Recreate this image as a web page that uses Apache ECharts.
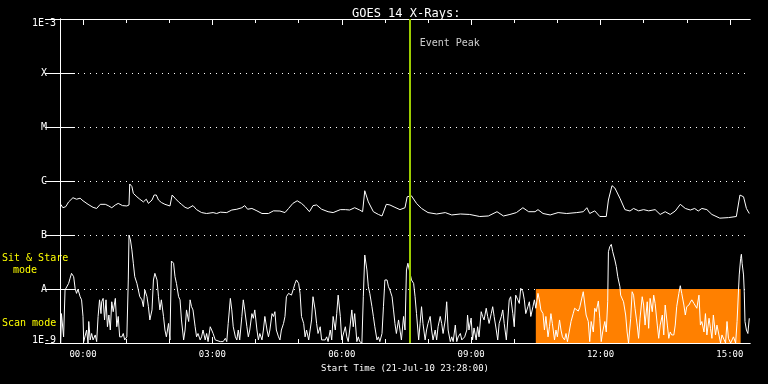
<!DOCTYPE html>
<html>
<head>
<meta charset="utf-8">
<script src="https://cdn.jsdelivr.net/npm/echarts@6/dist/echarts.min.js"></script>
<style>html,body{margin:0;padding:0;background:#000}#c{width:768px;height:384px}</style>
</head>
<body>
<div id="c"></div>
<script>
// x values: minutes since start time 21-Jul-10 23:28:00
const titleText = 'GOES 14 X-Rays:';
const xTitle = 'Start Time (21-Jul-10 23:28:00)';
const xMinMinute = 0, xMaxMinute = 960;
const hourTickMinutes = [32,92,152,212,272,332,392,452,512,572,632,692,752,812,872,932];
const labelTickMinutes = [32,212,392,572,752,932];
const tickLabels = ['00:00','03:00','06:00','09:00','12:00','15:00'];
const yLevels = [1e-9,1e-8,1e-7,1e-6,1e-5,1e-4,1e-3];
const yLabels = ['1E-9','A','B','C','M','X','1E-3'];
const eventPeakMinute = 486.5;
const eventLabel = 'Event Peak';
const orangeSpan = [662, 947];
const orangeFlux = [1e-9, 1e-8];
const modeLabels = ['Sit & Stare', 'mode', 'Scan mode'];

// long channel (upper curve)
const longTimes = [1,4,8,12,18,23,28,32,39,46,51,56,63,67,72,77,81,87,93,96,97,100,102,107,111,116,120,123,128,131,134,137,141,146,153,156,160,165,169,174,178,185,190,197,204,213,218,223,232,239,246,253,257,261,267,274,281,290,297,306,313,318,324,330,336,341,347,352,357,364,373,380,390,397,403,410,417,421,424,429,436,443,448,454,459,466,473,480,483,489,496,503,512,524,536,545,557,570,584,596,608,617,626,635,644,652,661,665,672,682,693,705,719,728,733,737,744,751,760,763,768,772,779,786,793,798,805,812,819,828,835,842,849,856,863,870,877,883,888,893,900,907,918,930,941,946,951,955,959];
const longFlux = [3.7e-7,3.2e-7,3.35e-7,4.1e-7,4.9e-7,4.6e-7,4.8e-7,4.3e-7,3.7e-7,3.25e-7,3.1e-7,3.7e-7,3.7e-7,3.5e-7,3.2e-7,3.6e-7,3.85e-7,3.5e-7,3.45e-7,3.6e-7,8.8e-7,7.9e-7,5.9e-7,5.1e-7,4.6e-7,4.1e-7,4.6e-7,3.85e-7,4.45e-7,5.5e-7,5.5e-7,4.45e-7,4.0e-7,3.7e-7,3.45e-7,5.5e-7,4.8e-7,4.1e-7,3.7e-7,3.25e-7,3.1e-7,3.5e-7,2.95e-7,2.6e-7,2.5e-7,2.6e-7,2.5e-7,2.65e-7,2.6e-7,2.9e-7,3.0e-7,3.2e-7,3.5e-7,3.0e-7,3.1e-7,2.8e-7,2.5e-7,2.5e-7,2.8e-7,2.78e-7,2.6e-7,3.1e-7,3.85e-7,4.3e-7,3.85e-7,3.35e-7,2.7e-7,3.5e-7,3.6e-7,3.0e-7,2.7e-7,2.6e-7,2.95e-7,2.95e-7,2.9e-7,3.2e-7,2.9e-7,2.7e-7,6.6e-7,4.1e-7,2.7e-7,2.4e-7,2.25e-7,3.7e-7,3.6e-7,3.25e-7,2.95e-7,3.2e-7,5.1e-7,5.3e-7,3.85e-7,3.1e-7,2.6e-7,2.45e-7,2.6e-7,2.35e-7,2.45e-7,2.4e-7,2.2e-7,2.25e-7,2.7e-7,2.25e-7,2.4e-7,2.6e-7,3.2e-7,2.7e-7,2.7e-7,2.95e-7,2.5e-7,2.35e-7,2.6e-7,2.5e-7,2.6e-7,2.7e-7,3.2e-7,2.5e-7,2.8e-7,2.2e-7,2.2e-7,4.45e-7,8.2e-7,7.4e-7,4.8e-7,2.95e-7,2.78e-7,3.1e-7,2.8e-7,2.95e-7,2.8e-7,2.95e-7,2.4e-7,2.7e-7,2.4e-7,2.78e-7,3.7e-7,3.1e-7,2.9e-7,3.1e-7,2.78e-7,3.1e-7,2.95e-7,2.4e-7,2.05e-7,2.1e-7,2.2e-7,5.5e-7,5.1e-7,3.1e-7,2.5e-7];

// short channel (lower curve)
const shortTimes = [1,2,5,7,9,12,14,16,19,21,23,25,28,30,32,33,35,37,39,40,42,44,46,49,51,53,55,57,58,60,62,64,66,68,70,72,74,77,79,81,83,86,88,90,93,95,96,98,100,102,104,107,109,111,114,116,118,121,123,125,128,130,132,135,137,139,141,144,146,148,151,153,155,158,160,162,165,167,169,172,174,176,179,181,183,185,188,190,192,195,197,199,202,204,206,209,211,213,216,218,223,225,227,230,232,234,237,239,241,244,246,248,250,253,255,257,260,262,264,267,269,271,274,276,278,281,283,285,288,290,292,295,297,299,301,304,306,308,311,313,315,318,320,322,325,327,329,332,334,336,339,341,343,346,348,350,352,355,357,359,362,364,366,369,371,373,376,378,380,383,385,387,390,392,394,397,399,401,403,406,408,410,413,415,417,420,422,424,427,429,431,434,436,438,441,443,445,448,450,452,455,457,459,462,464,466,468,471,473,475,478,480,482,484,487,489,492,494,496,499,501,503,505,508,510,512,515,517,519,522,524,526,529,531,533,536,538,540,543,545,547,550,552,554,557,559,561,563,566,567,569,572,574,576,579,581,583,586,588,590,593,595,597,600,602,604,607,609,611,614,616,618,621,623,625,627,630,632,634,637,639,641,644,646,648,651,653,655,658,660,662,665,667,669,672,674,676,679,681,683,685,688,690,692,695,697,699,702,704,706,711,714,716,718,721,723,725,728,730,732,735,737,739,742,744,746,749,751,753,755,758,760,762,763,765,767,769,772,774,776,779,780,782,784,787,789,791,794,796,798,800,803,805,807,810,812,814,817,819,821,824,826,828,831,833,835,838,840,842,845,847,849,851,854,856,858,861,863,865,868,870,872,875,877,879,882,884,886,889,891,893,896,898,900,903,905,907,909,912,914,916,919,921,923,926,928,930,933,935,937,940,942,944,945,947,948,949,951,952,953,955,957,959];
const shortFlux = [1.0e-9,3.5e-9,1.3e-9,9.6e-9,9.9e-9,1.27e-8,1.58e-8,1.95e-8,1.69e-8,1.03e-8,8.3e-9,9.9e-9,7.2e-9,6.3e-9,3.1e-9,1.06e-9,1.14e-9,1.74e-9,1.0e-9,2.5e-9,1.14e-9,1.5e-9,1.14e-9,1.41e-9,1.06e-9,3.1e-9,6.3e-9,3.5e-9,5.8e-9,6.7e-9,2.67e-9,6.3e-9,2.0e-9,3.3e-9,1.74e-9,5.8e-9,3.8e-9,6.7e-9,2.0e-9,3.1e-9,1.3e-9,1.3e-9,1.5e-9,1.14e-9,1.3e-9,1.47e-8,1.0e-7,8.1e-8,5.3e-8,3.0e-8,1.69e-8,1.27e-8,9.6e-9,7.2e-9,6.3e-9,4.7e-9,9.6e-9,7.2e-9,4.7e-9,2.67e-9,4.1e-9,1.47e-8,1.95e-8,1.47e-8,7.2e-9,4.1e-9,6.3e-9,3.1e-9,1.74e-9,1.3e-9,2.3e-9,1.14e-9,3.3e-8,3.0e-8,1.69e-8,1.27e-8,7.2e-9,6.3e-9,2.67e-9,1.14e-9,1.74e-9,4.1e-9,2.5e-9,6.3e-9,4.7e-9,4.1e-9,2.0e-9,1.3e-9,1.5e-9,1.14e-9,1.3e-9,1.74e-9,1.14e-9,1.5e-9,1.06e-9,2.0e-9,1.74e-9,1.5e-9,1.14e-9,1.06e-9,1.06e-9,1.14e-9,1.06e-9,1.22e-9,1.06e-9,2.3e-9,6.7e-9,4.1e-9,2.0e-9,1.3e-9,1.14e-9,1.74e-9,1.14e-9,3.1e-9,6.3e-9,4.1e-9,2.0e-9,1.3e-9,1.74e-9,3.5e-9,2.87e-9,4.1e-9,1.74e-9,1.14e-9,1.5e-9,1.14e-9,1.74e-9,3.1e-9,1.74e-9,1.3e-9,1.74e-9,3.5e-9,3.1e-9,3.8e-9,1.74e-9,1.3e-9,1.14e-9,1.74e-9,2.3e-9,3.1e-9,7.2e-9,8.3e-9,8.9e-9,7.7e-9,1.03e-8,1.27e-8,1.47e-8,1.27e-8,8.3e-9,3.1e-9,2.3e-9,1.3e-9,1.74e-9,1.14e-9,1.06e-9,2.67e-9,7.2e-9,4.1e-9,2.3e-9,1.5e-9,2.0e-9,1.14e-9,1.06e-9,1.14e-9,1.3e-9,1.06e-9,1.74e-9,1.14e-9,3.1e-9,1.74e-9,3.5e-9,7.7e-9,3.1e-9,1.14e-9,1.06e-9,2.0e-9,1.3e-9,1.06e-9,1.74e-9,4.1e-9,2.0e-9,3.5e-9,1.06e-9,1.3e-9,1.06e-9,1.0e-9,7.2e-9,4.26e-8,2.25e-8,1.1e-8,8.3e-9,4.7e-9,3.1e-9,2.0e-9,1.14e-9,1.3e-9,1.06e-9,1.5e-9,4.7e-9,1.47e-8,1.47e-8,1.1e-8,9.6e-9,7.2e-9,4.1e-9,2.3e-9,1.5e-9,2.67e-9,1.74e-9,1.14e-9,3.1e-9,1.74e-9,2.25e-8,3.0e-8,1.95e-8,1.47e-8,1.27e-8,7.2e-9,3.5e-9,1.14e-9,2.3e-9,4.7e-9,2.3e-9,1.14e-9,1.74e-9,2.3e-9,3.1e-9,1.74e-9,1.14e-9,1.74e-9,1.14e-9,2.0e-9,3.1e-9,2.3e-9,1.5e-9,2.67e-9,5.8e-9,1.74e-9,1.06e-9,1.3e-9,1.06e-9,2.15e-9,1.06e-9,1.3e-9,1.5e-9,1.14e-9,1.06e-9,1.3e-9,1.74e-9,3.3e-9,1.74e-9,2.9e-9,1.14e-9,1.9e-9,1.14e-9,2.0e-9,1.3e-9,3.8e-9,3.1e-9,2.67e-9,4.4e-9,3.1e-9,2.3e-9,3.5e-9,4.7e-9,3.1e-9,1.74e-9,1.14e-9,2.3e-9,3.1e-9,4.1e-9,2.3e-9,1.14e-9,1.06e-9,6.3e-9,7.2e-9,3.5e-9,2.0e-9,7.7e-9,6.3e-9,5.4e-9,1.03e-8,8.9e-9,6.3e-9,3.5e-9,4.7e-9,5.8e-9,3.1e-9,4.7e-9,6.3e-9,4.4e-9,8.3e-9,6.3e-9,4.1e-9,3.5e-9,1.74e-9,3.1e-9,1.3e-9,2.0e-9,3.5e-9,2.3e-9,1.14e-9,1.74e-9,1.3e-9,2.67e-9,1.74e-9,1.3e-9,1.14e-9,1.5e-9,1.06e-9,2.5e-9,3.5e-9,4.4e-9,4.7e-9,3.9e-9,4.5e-9,4.7e-9,8.9e-9,8.9e-9,3.3e-9,2.5e-9,1.06e-9,2.5e-9,1.6e-9,4.4e-9,3.8e-9,6.0e-9,2.87e-9,1.06e-9,1.6e-9,2.5e-9,1.6e-9,5.8e-9,4.9e-8,6.1e-8,6.7e-8,4.9e-8,3.44e-8,2.6e-8,1.69e-8,1.1e-8,7.7e-9,8.3e-9,5.8e-9,3.3e-9,1.6e-9,1.0e-9,2.87e-9,8.9e-9,7.7e-9,4.4e-9,2.15e-9,1.22e-9,2.87e-9,7.2e-9,5.05e-9,2.15e-9,5.8e-9,1.87e-9,6.7e-9,3.8e-9,7.7e-9,5.4e-9,2.15e-9,1.22e-9,2.15e-9,3.3e-9,1.41e-9,5.05e-9,2.15e-9,1.22e-9,1.6e-9,1.41e-9,1.41e-9,2.15e-9,4.7e-9,8.3e-9,1.15e-8,8.3e-9,5.05e-9,3.3e-9,4.7e-9,5.05e-9,5.7e-9,6.3e-9,5.4e-9,5.05e-9,4.4e-9,7.7e-9,2.15e-9,2.5e-9,1.6e-9,3.5e-9,1.41e-9,2.87e-9,1.87e-9,1.22e-9,3.3e-9,1.41e-9,2.15e-9,2.0e-9,1.0e-9,1.41e-9,1.3e-9,1.0e-9,2.5e-9,1.22e-9,1.0e-9,1.0e-9,1.3e-9,1.0e-9,2.5e-9,2.7e-9,1.82e-8,3.7e-8,4.4e-8,3.0e-8,1.82e-8,8.9e-9,2.5e-9,1.74e-9,1.5e-9,2.87e-9];

const MONO = 'DejaVu Sans Mono';
const zip = (t, v) => t.map((x, i) => [x, v[i]]);
const yLabelFor = v => {
  const e = Math.round(Math.log10(v));
  const i = yLevels.findIndex(l => Math.round(Math.log10(l)) === e);
  if (i < 0) return '';
  if (i === yLevels.length - 1) return '{top|' + yLabels[i] + '}';
  if (i === 0) return '{bot|' + yLabels[i] + '}';
  return yLabels[i];
};
const xLabelFor = v => {
  const i = labelTickMinutes.indexOf(Math.round(v));
  return i >= 0 ? tickLabels[i] : '';
};

const chart = echarts.init(document.getElementById('c'), null, {renderer: 'canvas'});
const baseX = {
  type: 'value', min: xMinMinute, max: xMaxMinute,
  axisLine: {show: true, lineStyle: {color: '#fff', width: 1}},
  splitLine: {show: false}
};
const baseY = {
  type: 'log', logBase: 10, min: yLevels[0], max: yLevels[yLevels.length - 1], splitNumber: 6,
  axisLine: {show: true, lineStyle: {color: '#fff', width: 1}},
  axisTick: {show: true, inside: true, length: 15, lineStyle: {color: '#fff', width: 1}},
};
chart.setOption({
  backgroundColor: '#000',
  animation: false,
  title: {
    text: titleText, left: 347, top: 3,
    textStyle: {color: '#fff', fontFamily: MONO, fontSize: 12, fontWeight: 'normal'}
  },
  grid: {left: 60, right: 18, top: 19, bottom: 41, containLabel: false, outerBoundsMode: 'none'},
  xAxis: [
    Object.assign({}, baseX, {
      position: 'bottom',
      axisTick: {show: true, inside: true, length: 6, customValues: labelTickMinutes, lineStyle: {color: '#fff'}},
      axisLabel: {show: true, customValues: labelTickMinutes, formatter: xLabelFor, color: '#fff', fontFamily: MONO, fontSize: 9, margin: 7},
      name: xTitle, nameLocation: 'middle', nameGap: 19,
      nameTextStyle: {color: '#fff', fontFamily: MONO, fontSize: 9}
    }),
    Object.assign({}, baseX, {
      position: 'bottom',
      axisTick: {show: true, inside: true, length: 4, customValues: hourTickMinutes, lineStyle: {color: '#fff'}},
      axisLabel: {show: false}
    }),
    Object.assign({}, baseX, {
      position: 'top',
      axisTick: {show: true, inside: true, length: 4, customValues: hourTickMinutes, lineStyle: {color: '#fff'}},
      axisLabel: {show: false}
    }),
    Object.assign({}, baseX, {
      position: 'top',
      axisTick: {show: true, inside: true, length: 6, customValues: labelTickMinutes, lineStyle: {color: '#fff'}},
      axisLabel: {show: false}
    })
  ],
  yAxis: [
    Object.assign({}, baseY, {
      position: 'left',
      axisLabel: {
        show: true, formatter: yLabelFor, color: '#fff', fontFamily: MONO, fontSize: 10,
        align: 'center', margin: 16, verticalAlign: 'middle',
        rich: {
          top: {color: '#fff', fontFamily: MONO, fontSize: 10, padding: [9, 0, 0, 0]},
          bot: {color: '#fff', fontFamily: MONO, fontSize: 10, padding: [0, 0, 6, 0]}
        }
      },
      splitLine: {show: true, lineStyle: {color: '#fff', width: 1, type: [1, 5]}}
    }),
    Object.assign({}, baseY, {
      position: 'right',
      axisLabel: {show: false},
      splitLine: {show: false}
    })
  ],
  graphic: [
    {type: 'text', left: 2, top: 253, style: {text: modeLabels[0], fill: '#ffff00', font: '10px "DejaVu Sans Mono"'}},
    {type: 'text', left: 13, top: 265, style: {text: modeLabels[1], fill: '#ffff00', font: '10px "DejaVu Sans Mono"'}},
    {type: 'text', left: 2, top: 318, style: {text: modeLabels[2], fill: '#ffff00', font: '10px "DejaVu Sans Mono"'}}
  ],
  series: [
    {
      type: 'line', name: 'long', xAxisIndex: 0, yAxisIndex: 0,
      data: zip(longTimes, longFlux), showSymbol: false, symbol: 'none',
      lineStyle: {color: '#fff', width: 1}, z: 3
    },
    {
      type: 'line', name: 'short', xAxisIndex: 0, yAxisIndex: 0,
      data: zip(shortTimes, shortFlux), showSymbol: false, symbol: 'none',
      lineStyle: {color: '#fff', width: 1}, z: 3,
      markArea: {
        silent: true,
        itemStyle: {color: '#ff8000', opacity: 1},
        data: [[{xAxis: orangeSpan[0], yAxis: orangeFlux[0]}, {xAxis: orangeSpan[1], yAxis: orangeFlux[1]}]]
      },
      markLine: {
        silent: true, symbol: 'none',
        lineStyle: {color: '#9ccc00', width: 2, type: 'solid'},
        label: {show: false},
        data: [{xAxis: eventPeakMinute}]
      }
    },
    {
      type: 'scatter', xAxisIndex: 0, yAxisIndex: 0, silent: true,
      data: [[eventPeakMinute, 3.6e-4]], symbolSize: 0,
      label: {show: true, position: 'right', distance: 10, formatter: eventLabel, color: '#fff', fontFamily: MONO, fontSize: 10}
    }
  ]
});
</script>
</body>
</html>
